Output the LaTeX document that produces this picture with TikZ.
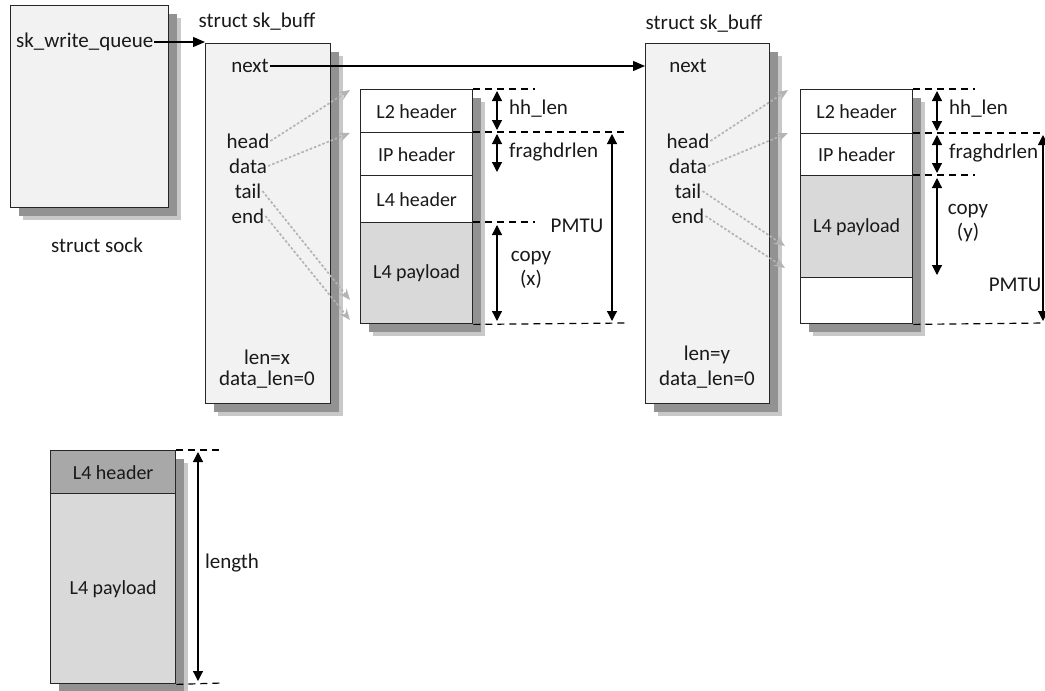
\documentclass[tikz,border=0pt]{standalone}
\usepackage{fontspec}
\setmainfont{Carlito}
\usetikzlibrary{arrows.meta}
\definecolor{boxfill}{HTML}{F2F2F2}
\definecolor{payfill}{HTML}{D9D9D9}
\definecolor{hdrfill}{HTML}{A8A8A8}
\definecolor{shA}{HTML}{929292}
\definecolor{shB}{HTML}{C8C8C8}
\definecolor{ptrgray}{HTML}{B4B4B4}
\newcommand\shbox[4]{\fill[shB] (#1+13,#2+13) rectangle ++(#3,#4);\fill[shA] (#1+9,#2+9) rectangle ++(#3,#4);}
\begin{document}
\begin{tikzpicture}[x=1pt,y=-1pt,
  every node/.style={font=\fontsize{21}{24}\selectfont, inner sep=1pt, text=black!90},
  inbox/.style={font=\fontsize{20}{24}\selectfont},
  bx/.style={draw=black!85, line width=1.4pt, inner sep=0pt, anchor=north west, fill=boxfill},
  seg/.style={draw=black!85, line width=1.4pt, inner sep=0pt, anchor=north west, fill=white},
  pay/.style={seg, fill=payfill},
  hdr/.style={seg, fill=hdrfill},
  guide/.style={draw=black, line width=1.2pt, dash pattern=on 7pt off 5pt},
  dim/.style={draw=black, line width=1.2pt, {Triangle[length=10pt,width=10pt]}-{Triangle[length=10pt,width=10pt]}},
  link/.style={draw=black, line width=1.2pt, -{Triangle[length=12pt,width=10pt]}},
  ptr/.style={draw=ptrgray, line width=1.7pt, dash pattern=on 2.5pt off 2pt, -{Stealth[length=11pt,width=9pt,fill=ptrgray]}}
]
\useasboundingbox (0,0) rectangle (1045,691);
\clip (0,0) rectangle (1045,691);
% shadows
\shbox{10}{5}{158}{202}
\shbox{205}{43}{125}{360}
\shbox{645}{43}{124}{360}
\shbox{360}{89}{112}{234}
\shbox{800}{89}{112}{234}
\shbox{50}{450}{125}{233}
% struct boxes
\node[bx, minimum width=158pt, minimum height=202pt] (sock) at (10,5) {};
\node[bx, minimum width=125pt, minimum height=360pt] (sk1) at (205,43) {};
\node[bx, minimum width=124pt, minimum height=360pt] (sk2) at (645,43) {};
% data 1
\node[seg, minimum width=112pt, minimum height=43pt] (l2a) at (360,89) {};
\node[seg, minimum width=112pt, minimum height=43pt] (ipa) at (360,132) {};
\node[seg, minimum width=112pt, minimum height=47pt] (l4a) at (360,175) {};
\node[pay, minimum width=112pt, minimum height=101pt] (pya) at (360,222) {};
\node[inbox] at (l2a.center) {L2 header};
\node[inbox] at (ipa.center) {IP header};
\node[inbox] at (l4a.center) {L4 header};
\node[inbox] at (pya.center) {L4 payload};
% data 2
\node[seg, minimum width=112pt, minimum height=44pt] (l2b) at (800,89) {};
\node[seg, minimum width=112pt, minimum height=42pt] (ipb) at (800,133) {};
\node[pay, minimum width=112pt, minimum height=102pt] (pyb) at (800,175) {};
\node[seg, minimum width=112pt, minimum height=46pt] (emb) at (800,277) {};
\node[inbox] at (l2b.center) {L2 header};
\node[inbox] at (ipb.center) {IP header};
\node[inbox] at (pyb.center) {L4 payload};
% bottom fragment
\node[hdr, minimum width=125pt, minimum height=43pt] (l4c) at (50,450) {};
\node[pay, minimum width=125pt, minimum height=190pt] (pyc) at (50,493) {};
\node[inbox] at (l4c.center) {L4 header};
\node[inbox] at (pyc.center) {L4 payload};
% texts
\node[anchor=west] (swq) at (15,42) {sk\_write\_queue};
\node (sockl) at (97,245) {struct sock};
\node (sk1l) at (257,22) {struct sk\_buff};
\node (sk2l) at (704,24) {struct sk\_buff};
\node (n1) at (250,66) {next};
\node (h1) at (248,141) {head};
\node (d1) at (248,166) {data};
\node (t1) at (248,191) {tail};
\node (e1) at (248,216) {end};
\node (len1) at (267,357) {len=x};
\node (dl1) at (267,380) {data\_len=0};
\node (n2) at (688,66) {next};
\node (h2) at (688,141) {head};
\node (d2) at (688,166) {data};
\node (t2) at (688,191) {tail};
\node (e2) at (688,216) {end};
\node (len2) at (707,355) {len=y};
\node (dl2) at (707,380) {data\_len=0};
% links
\draw[link] (swq.east) -- (swq.east -| sk1.west);
\draw[link] (n1.east) -- (n1.east -| sk2.west);
% pointers
\coordinate (ph1) at (350,90);
\coordinate (pd1) at (350,133);
\coordinate (pt1) at (350,300);
\coordinate (pe1) at (350,320);
\coordinate (ph2) at (788,90);
\coordinate (pd2) at (788,133);
\coordinate (pt2) at (785,246);
\coordinate (pe2) at (785,268);
\draw[ptr] (h1.east) -- (ph1);
\draw[ptr] (d1.east) -- (pd1);
\draw[ptr] (t1.east) -- (pt1);
\draw[ptr] (e1.east) -- (pe1);
\draw[ptr] (h2.east) -- (ph2);
\draw[ptr] (d2.east) -- (pd2);
\draw[ptr] (t2.east) -- (pt2);
\draw[ptr] (e2.east) -- (pe2);
% guides data 1
\coordinate (ga1) at (535,89);
\coordinate (ga2) at (626,132);
\coordinate (ga3) at (535,222);
\coordinate (ga4) at (626,323);
\draw[guide] (l2a.north east) -- (ga1);
\draw[guide] (ipa.north east) -- (ga2);
\draw[guide] (pya.north east) -- (ga3);
\draw[guide] (pya.south east) -- (ga4);
% guides data 2
\coordinate (gb1) at (975,89);
\coordinate (gb2) at (1045,133);
\coordinate (gb3) at (975,175);
\coordinate (gb4) at (1045,323);
\draw[guide] (l2b.north east) -- (gb1);
\draw[guide] (ipb.north east) -- (gb2);
\draw[guide] (pyb.north east) -- (gb3);
\draw[guide] (emb.south east) -- (gb4);
% guides bottom
\coordinate (gc1) at (222,450);
\coordinate (gc2) at (222,683);
\draw[guide] (l4c.north east) -- (gc1);
\draw[guide] (pyc.south east) -- (gc2);
% dimension arrows data 1
\coordinate (a1t) at (497,91);  \coordinate (a1b) at (497,130);
\coordinate (a2t) at (497,134); \coordinate (a2b) at (497,172);
\coordinate (a3t) at (497,225); \coordinate (a3b) at (497,321);
\coordinate (a4t) at (612,134); \coordinate (a4b) at (612,321);
\draw[dim] (a1t) -- (a1b);
\draw[dim] (a2t) -- (a2b);
\draw[dim] (a3t) -- (a3b);
\draw[dim] (a4t) -- (a4b);
\node[anchor=west] (hh1) at (508,109) {hh\_len};
\node[anchor=west] (fr1) at (508,152) {fraghdrlen};
\node[align=center] (cp1) at (531,270) {copy\\(x)};
\node (pm1) at (577,226) {PMTU};
% dimension arrows data 2
\coordinate (b1t) at (937,91);  \coordinate (b1b) at (937,131);
\coordinate (b2t) at (937,135); \coordinate (b2b) at (937,173);
\coordinate (b3t) at (937,178); \coordinate (b3b) at (937,275);
\coordinate (b4t) at (1043,135); \coordinate (b4b) at (1043,321);
\draw[dim] (b1t) -- (b1b);
\draw[dim] (b2t) -- (b2b);
\draw[dim] (b3t) -- (b3b);
\draw[dim] (b4t) -- (b4b);
\node[anchor=west] (hh2) at (948,109) {hh\_len};
\node[anchor=west] (fr2) at (948,153) {fraghdrlen};
\node[align=center] (cp2) at (968,223) {copy\\(y)};
\node (pm2) at (1015,285) {PMTU};
% bottom length
\coordinate (c1t) at (198,452); \coordinate (c1b) at (198,681);
\draw[dim] (c1t) -- (c1b);
\node (lenc) at (232,563) {length};
\end{tikzpicture}
\end{document}
